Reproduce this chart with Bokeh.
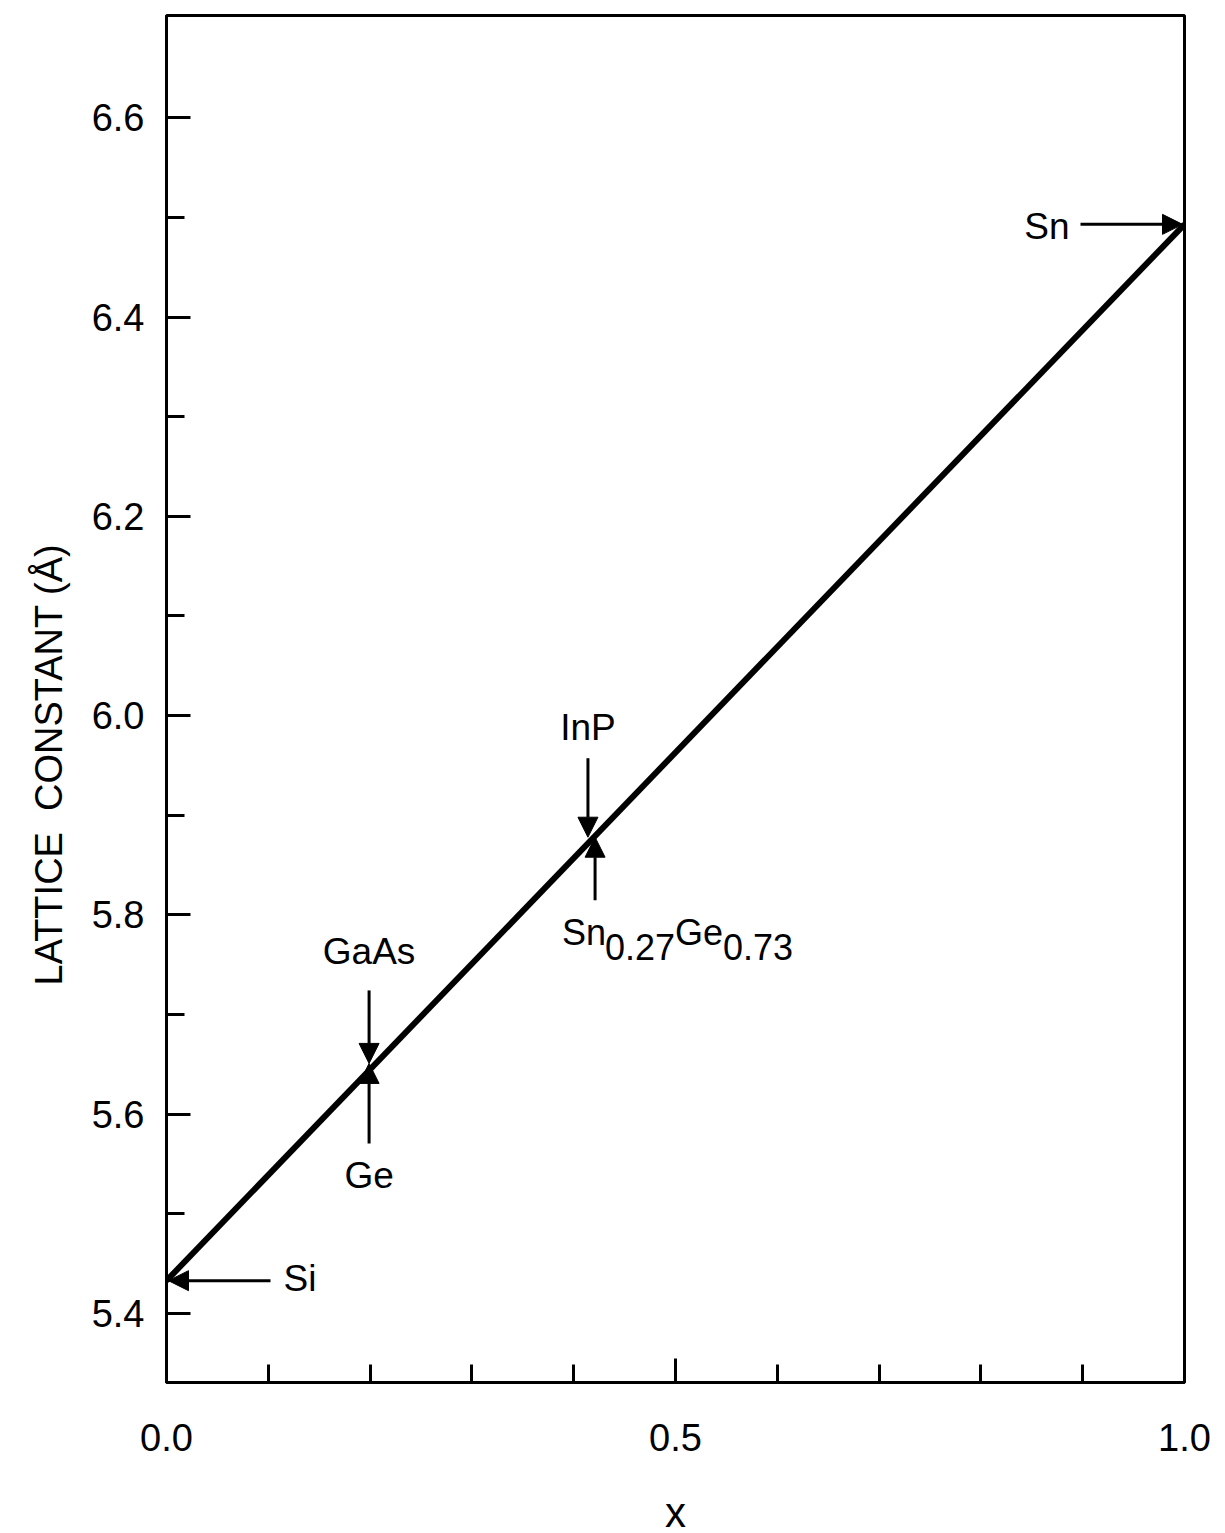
import math
from bokeh.plotting import figure
from bokeh.models import Range1d, FixedTicker, Arrow, NormalHead, Label, Title
from bokeh.embed import file_html
from bokeh.resources import INLINE

# ---------------- data ----------------
line_x = [0.0, 1.0]
line_a = [5.433, 6.493]

x_ticks = [0.0, 0.5, 1.0]
x_tick_labels = ["0.0", "0.5", "1.0"]
x_minor = [0.1, 0.2, 0.3, 0.4, 0.6, 0.7, 0.8, 0.9]

y_ticks = [5.4, 5.6, 5.8, 6.0, 6.2, 6.4, 6.6]
y_tick_labels = ["5.4", "5.6", "5.8", "6.0", "6.2", "6.4", "6.6"]
y_minor = [5.5, 5.7, 5.9, 6.1, 6.3, 6.5]

# marked materials: x position and lattice constant (Å)
si_x, si_a = 0.0, 5.433
sn_x, sn_a = 1.0, 6.493
gaas_x, gaas_a = 0.199, 5.651
ge_x, ge_a = 0.199, 5.651
inp_x, inp_a = 0.414, 5.878
snge_x, snge_a = 0.421, 5.878

x_title = "x"
y_title = "LATTICE\u00a0\u00a0CONSTANT (Å)"

# ---------------- layout ----------------
FW, FH = 1018, 1367
X0, X1 = 0.0, 1.0
Y0, Y1 = 5.3308, 6.7026
PX = FW / (X1 - X0)
PY = FH / (Y1 - Y0)
FONT = "Liberation Sans"

p = figure(width=1214, height=1530, frame_width=FW, frame_height=FH,
           x_range=Range1d(X0, X1), y_range=Range1d(Y0, Y1),
           output_backend="svg", toolbar_location=None,
           min_border_left=166, min_border_right=30,
           min_border_top=15, min_border_bottom=148)
p.background_fill_color = "white"
p.border_fill_color = "white"
p.grid.visible = False
p.outline_line_color = "black"
p.outline_line_width = 3

p.xaxis.ticker = FixedTicker(ticks=x_ticks, minor_ticks=x_minor)
p.yaxis.ticker = FixedTicker(ticks=y_ticks, minor_ticks=y_minor)
p.xaxis.major_label_overrides = {t: l for t, l in zip(x_ticks, x_tick_labels)}
p.yaxis.major_label_overrides = {t: l for t, l in zip(y_ticks, y_tick_labels)}

for ax in (p.xaxis, p.yaxis):
    ax.axis_line_width = 3
    ax.axis_line_color = "black"
    ax.major_tick_line_width = 3
    ax.minor_tick_line_width = 3
    ax.major_tick_line_color = "black"
    ax.minor_tick_line_color = "black"
    ax.major_tick_in = 24
    ax.major_tick_out = 0
    ax.minor_tick_in = 18
    ax.minor_tick_out = 0
    ax.major_label_text_font = FONT
    ax.major_label_text_font_size = "38px"
    ax.major_label_text_color = "black"

p.yaxis.major_label_standoff = 22
p.xaxis.major_label_standoff = 41

p.xaxis.axis_label = x_title
p.xaxis.axis_label_text_font = FONT
p.xaxis.axis_label_text_font_size = "42px"
p.xaxis.axis_label_text_font_style = "normal"
p.xaxis.axis_label_text_color = "black"
p.xaxis.axis_label_standoff = 35

# y-axis title, positioned along the left side
p.add_layout(Title(text=y_title, align="left", offset=397, standoff=38,
                   text_font=FONT, text_font_size="38px", text_font_style="normal",
                   text_color="black"), "left")

# main line
p.line(line_x, line_a, line_color="black", line_width=6)

def dx(px):
    return px / PX

def dy(px):
    return px / PY

def add_arrow(x0, y0, x1, y1):
    p.add_layout(Arrow(end=NormalHead(size=20, fill_color="black", line_color="black", line_width=1),
                       x_start=x0, y_start=y0, x_end=x1, y_end=y1,
                       line_color="black", line_width=3))

def add_label(x, y, text, align="center", size="37px"):
    p.add_layout(Label(x=x, y=y, text=text, text_align=align, text_baseline="middle",
                       text_font=FONT, text_font_size=size, text_color="black"))

# Si
add_arrow(si_x + dx(104), si_a, si_x + dx(2), si_a)
add_label(si_x + dx(117), si_a + dy(2), "Si", align="left")
# Sn
add_arrow(sn_x - dx(104), sn_a, sn_x - dx(2), sn_a)
add_label(sn_x - dx(115), sn_a - dy(2), "Sn", align="right")
# GaAs (from above)
add_arrow(gaas_x, gaas_a + dy(73), gaas_x, gaas_a)
add_label(gaas_x, gaas_a + dy(112), "GaAs")
# Ge (from below)
add_arrow(ge_x, ge_a - dy(80), ge_x, ge_a)
add_label(ge_x, ge_a - dy(112), "Ge")
# InP (from above)
add_arrow(inp_x, inp_a + dy(79), inp_x, inp_a)
add_label(inp_x, inp_a + dy(110), "InP")
# Sn0.27Ge0.73 (from below)
add_arrow(snge_x, snge_a - dy(63), snge_x, snge_a)
base_y = snge_a - dy(95)
sub_y = snge_a - dy(110)
add_label(snge_x - dx(33), base_y, "Sn", align="left", size="36px")
add_label(snge_x + dx(10), sub_y, "0.27", align="left", size="36px")
add_label(snge_x + dx(80), base_y, "Ge", align="left", size="36px")
add_label(snge_x + dx(128), sub_y, "0.73", align="left", size="36px")

open("out.html", "w").write(file_html(p, INLINE))
